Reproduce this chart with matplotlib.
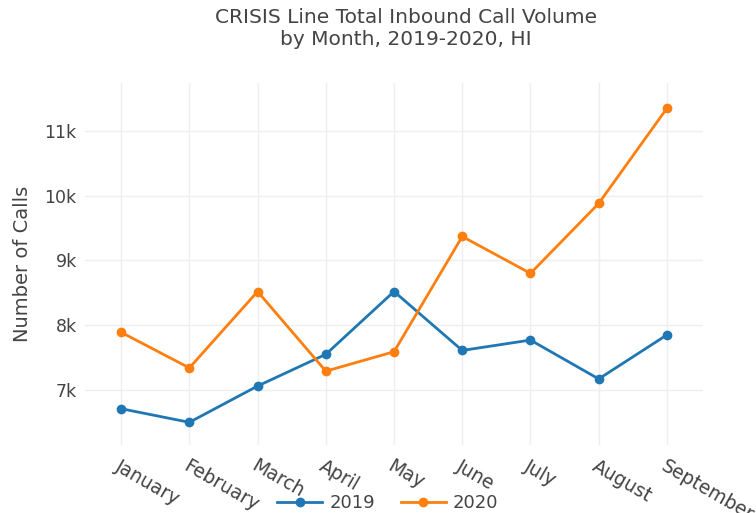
import matplotlib
matplotlib.use('Agg')
import matplotlib.pyplot as plt

# 数据
months = ['January', 'February', 'March', 'April', 'May', 'June', 'July', 'August', 'September']
calls_2019 = [6710, 6500, 7060, 7550, 8520, 7610, 7770, 7170, 7850]
calls_2020 = [7890, 7340, 8520, 7290, 7590, 9370, 8800, 9880, 11350]
yticks = [7000, 8000, 9000, 10000, 11000]
ytick_labels = ['7k', '8k', '9k', '10k', '11k']

text_color = '#444444'
plt.rcParams['font.family'] = ['DejaVu Sans']

fig = plt.figure(figsize=(7.56, 5.13), dpi=100)
ax = fig.add_axes([0.1124, 0.1326, 0.8176, 0.7056])

x = list(range(len(months)))
ax.plot(x, calls_2019, color='#1f77b4', linewidth=2, marker='o', markersize=6, label='2019')
ax.plot(x, calls_2020, color='#ff7f0e', linewidth=2, marker='o', markersize=6, label='2020')

ax.set_xlim(-0.53, 8.53)
ax.set_ylim(6150, 11740)
ax.set_yticks(yticks)
ax.set_yticklabels(ytick_labels, fontsize=12.5)
ax.set_xticks(x)
ax.set_xticklabels(months, rotation=-30, ha='left', va='top', rotation_mode='anchor', fontsize=13.5)
ax.tick_params(axis='both', length=0, labelcolor=text_color)
ax.tick_params(axis='x', pad=8)
ax.tick_params(axis='y', pad=6)

ax.grid(True, color='#eeeeee', linewidth=1)
ax.set_axisbelow(True)
for s in ax.spines.values():
    s.set_visible(False)

ax.set_ylabel('Number of Calls', fontsize=14, color=text_color, labelpad=9)

fig.text(0.537, 0.985, 'CRISIS Line Total Inbound Call Volume\nby Month, 2019-2020, HI',
         ha='center', va='top', fontsize=14.5, color=text_color, linespacing=1.25)

leg = ax.legend(loc='center', bbox_to_anchor=(0.49, -0.16), ncol=2, frameon=False,
                fontsize=13, handlelength=2.5, columnspacing=1.4, handletextpad=0.4)
for t in leg.get_texts():
    t.set_color(text_color)

fig.savefig('out.png', dpi=100)
